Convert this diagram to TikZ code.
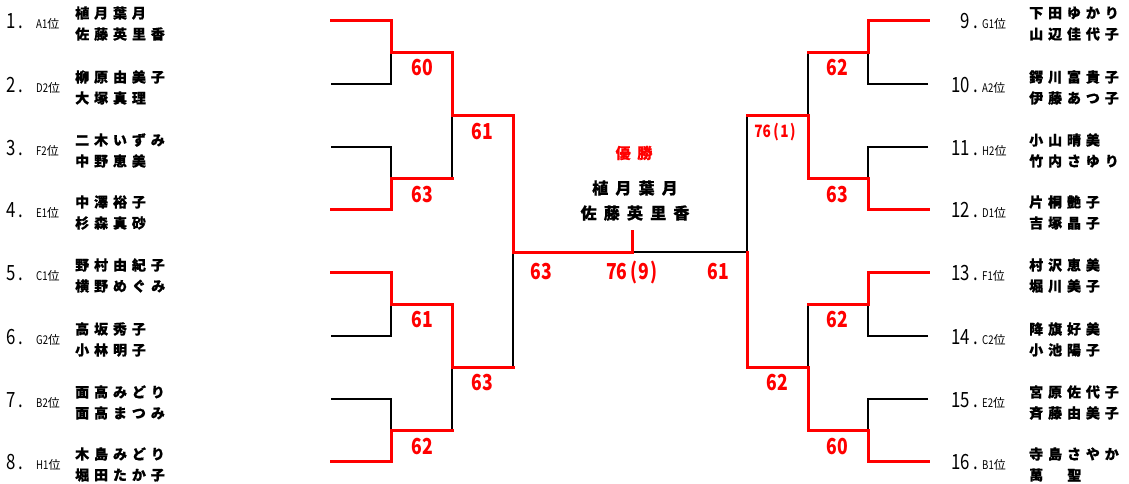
\documentclass[tikz,border=0pt]{standalone}
\usepackage{fontspec}
\newfontfamily\nmfont{Noto Sans CJK JP}[LetterSpace=35, BoldFeatures={FakeBold=0.6}]
\newfontfamily\ctfont{Noto Sans CJK JP}[LetterSpace=45, BoldFeatures={FakeBold=0.6}]
\newfontfamily\narfont{Noto Sans CJK JP}[FakeStretch=0.8]
\newfontfamily\jpfont{Noto Sans CJK JP}
\definecolor{winred}{RGB}{255,0,0}
\newcommand{\entrynum}[1]{#1\kern3pt.}
\newcommand{\scoresp}[2]{#1\kern2.5pt(\kern1.5pt#2\kern1.5pt)}
\begin{document}
\begin{tikzpicture}[x=1pt,y=-1pt,
  win/.style={draw=winred, line width=3pt, line join=miter, line cap=rect},
  lose/.style={draw=black, line width=1.8pt, line join=miter},
  score/.style={text=winred, inner sep=0pt, font=\narfont\bfseries\fontsize{22}{22}\selectfont},
  smallscore/.style={text=winred, inner sep=0pt, font=\narfont\bfseries\fontsize{17}{17}\selectfont},
  num/.style={inner sep=0pt, font=\narfont\fontsize{21}{21}\selectfont},
  rank/.style={inner sep=0pt, font=\narfont\fontsize{12}{12}\selectfont},
  nm/.style={inner sep=0pt, anchor=west, font=\nmfont\bfseries\fontsize{14}{14}\selectfont},
  ctr/.style={inner sep=0pt, font=\ctfont\bfseries\fontsize{16}{16}\selectfont},
  champ/.style={inner sep=0pt, text=winred, font=\ctfont\bfseries\fontsize{15}{15}\selectfont}
]
\useasboundingbox (0,0) rectangle (1129,483);

% ---------- leaf coordinates ----------
\foreach \k/\y in {1/20,2/84,3/147,4/209,5/272,6/336,7/399,8/461}{
  \coordinate (L\k) at (331,\y);
  \coordinate (C\k) at (391,\y);
}
\foreach \k/\y in {9/20,10/84,11/147,12/209,13/272,14/336,15/399,16/461}{
  \coordinate (R\k) at (928,\y);
  \coordinate (D\k) at (868,\y);
}
% left junctions
\coordinate (Ma) at (391,52);  \coordinate (Na) at (452,52);
\coordinate (Mb) at (391,178); \coordinate (Nb) at (452,178);
\coordinate (Mc) at (391,304); \coordinate (Nc) at (452,304);
\coordinate (Md) at (391,430); \coordinate (Nd) at (452,430);
\coordinate (Pa) at (452,115); \coordinate (Qa) at (513,115);
\coordinate (Pb) at (452,367); \coordinate (Qb) at (513,367);
\coordinate (F) at (513,252);
\coordinate (Ctr) at (632,252); \coordinate (Tk) at (632,231);
% right junctions
\coordinate (Me) at (868,52);  \coordinate (Ne) at (808,52);
\coordinate (Mf) at (868,178); \coordinate (Nf) at (808,178);
\coordinate (Mg) at (868,304); \coordinate (Ng) at (808,304);
\coordinate (Mh) at (868,430); \coordinate (Nh) at (808,430);
\coordinate (Pc) at (808,115); \coordinate (Qc) at (747,115);
\coordinate (Pd) at (808,367); \coordinate (Qd) at (747,367);
\coordinate (G) at (747,252);

% ---------- losing lines (black) ----------
\draw[lose] (L2) -- (C2) -- (Ma);
\draw[lose] (L3) -- (C3) -- (Mb);
\draw[lose] (Nb) -- (Pa);
\draw[lose] (L6) -- (C6) -- (Mc);
\draw[lose] (L7) -- (C7) -- (Md);
\draw[lose] (Nd) -- (Pb);
\draw[lose] (Qb) -- (F);
\draw[lose] (R10) -- (D10) -- (Me);
\draw[lose] (R11) -- (D11) -- (Mf);
\draw[lose] (Ne) -- (Pc);
\draw[lose] (R14) -- (D14) -- (Mg);
\draw[lose] (R15) -- (D15) -- (Mh);
\draw[lose] (Ng) -- (Pd);
\draw[lose] (Qc) -- (G) -- (Ctr);

% ---------- winning lines (red) ----------
\draw[win] (L1) -- (C1) -- (Ma) -- (Na) -- (Pa) -- (Qa) -- (F) -- (Ctr) -- (Tk);
\draw[win] (L4) -- (C4) -- (Mb) -- (Nb);
\draw[win] (L5) -- (C5) -- (Mc) -- (Nc) -- (Pb) -- (Qb);
\draw[win] (L8) -- (C8) -- (Md) -- (Nd);
\draw[win] (R9) -- (D9) -- (Me) -- (Ne);
\draw[win] (R12) -- (D12) -- (Mf) -- (Nf) -- (Pc) -- (Qc);
\draw[win] (R13) -- (D13) -- (Mg) -- (Ng);
\draw[win] (R16) -- (D16) -- (Mh) -- (Nh) -- (Pd) -- (Qd) -- (G);

% ---------- scores ----------
\node[score] (s1) at (422,68) {60};
\node[score] (s2) at (422,195) {63};
\node[score] (s3) at (482,132) {61};
\node[score] (s4) at (422,320) {61};
\node[score] (s5) at (482,383) {63};
\node[score] (s6) at (422,447) {62};
\node[score] (s7) at (541,272) {63};
\node[score] (s8) at (632,272) {\scoresp{76}{9}};
\node[score] (s9) at (718,272) {61};
\node[score] (s10) at (837,68) {62};
\node[smallscore] (s11) at (775,132) {\scoresp{76}{1}};
\node[score] (s12) at (837,195) {63};
\node[score] (s13) at (837,320) {62};
\node[score] (s14) at (777,383) {62};
\node[score] (s15) at (837,447) {60};

% ---------- champion ----------
\node[champ] (ch) at (634,153) {優勝};
\node[ctr] (ch1) at (635,188) {植月葉月};
\node[ctr] (ch2) at (635,213) {佐藤英里香};

% ---------- left entries ----------
\foreach \k/\y/\r/\a/\b in {
  1/20/A1/植月葉月/佐藤英里香,
  2/84/D2/柳原由美子/大塚真理,
  3/147/F2/二木いずみ/中野恵美,
  4/209/E1/中澤裕子/杉森真砂,
  5/272/C1/野村由紀子/横野めぐみ,
  6/336/G2/高坂秀子/小林明子,
  7/399/B2/面高みどり/面高まつみ,
  8/461/H1/木島みどり/堀田たか子}{
  \node[num, anchor=west] (n\k) at (6,\y+1) {\entrynum{\k}};
  \node[rank, anchor=west] (r\k) at (36,\y+4) {\r\jpfont 位};
  \node[nm] (a\k) at (75,\y-7) {\a};
  \node[nm] (b\k) at (75,\y+14) {\b};
}
% ---------- right entries ----------
\foreach \k/\y/\r/\a/\b in {
  9/20/G1/下田ゆかり/山辺佳代子,
  10/84/A2/鍔川富貴子/伊藤あつ子,
  11/147/H2/小山晴美/竹内さゆり,
  12/209/D1/片桐艶子/吉塚晶子,
  13/272/F1/村沢恵美/堀川美子,
  14/336/C2/降旗好美/小池陽子,
  15/399/E2/宮原佐代子/斉藤由美子,
  16/461/B1/寺島さやか/萬\kern24pt 聖}{
  \node[num, anchor=east] (n\k) at (978,\y+1) {\entrynum{\k}};
  \node[rank, anchor=west] (r\k) at (982,\y+4) {\r\jpfont 位};
  \node[nm] (a\k) at (1029,\y-7) {\a};
  \node[nm] (b\k) at (1029,\y+14) {\b};
}
\end{tikzpicture}
\end{document}
